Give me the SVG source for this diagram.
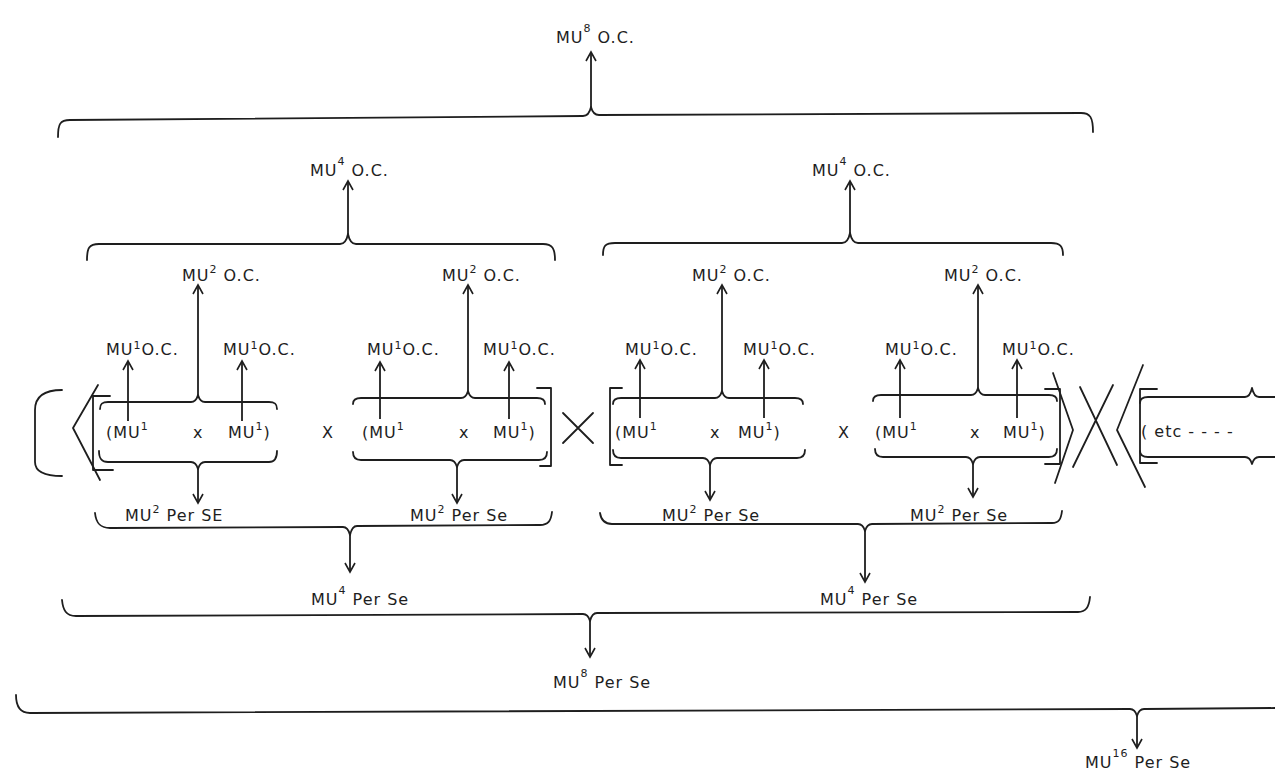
<svg xmlns="http://www.w3.org/2000/svg" width="1275" height="774" viewBox="0 0 1275 774">
<defs>
<marker id="ah" markerUnits="userSpaceOnUse" markerWidth="14" markerHeight="14" refX="10" refY="6" orient="auto">
<path d="M1,1 L10,6 L1,11" fill="none" stroke="#1e1e1e" stroke-width="1.6"/>
</marker>
</defs>
<style>
.t{font-family:"DejaVu Sans","Liberation Sans",sans-serif;font-size:16px;fill:#1e1e1e;letter-spacing:1px}
.s{font-size:11px}
.ln{fill:none;stroke:#1e1e1e;stroke-width:1.8;stroke-linecap:round;stroke-linejoin:round}
.ar{fill:none;stroke:#1e1e1e;stroke-width:1.8;marker-end:url(#ah)}
</style>
<rect width="1275" height="774" fill="#ffffff"/>

<g id="brackets" class="ln">
<path d="M58,137 C58,124 60,120 70,120 L583,116 Q589,116 591,107 Q593,115 599,115 L1081,113 C1090,113 1093,117 1093,132"/>
<path d="M87,260 C87,248 89,244 99,244 L340,244 Q346,244 348,234 Q350,244 356,244 L543,244 C552,244 555,248 555,260"/>
<path d="M603,255 C603,246 605,243 615,243 L842,243 Q848,243 850,233 Q852,243 858,243 L1051,243 C1060,243 1063,246 1063,255"/>
<path d="M100,409 C100,404 102,402 108,402 L191,402 Q196,402 198,395 Q200,402 205,402 L269,402 C275,402 277,404 277,409"/>
<path d="M353,404 C353,400 355,398 361,398 L461,398 Q466,398 468,391 Q470,398 475,398 L537,398 C543,398 545,400 545,404"/>
<path d="M613,404 C613,400 615,398 621,398 L715,398 Q720,398 722,391 Q724,398 729,398 L795,398 C801,398 803,400 803,404"/>
<path d="M873,401 C873,397 875,395 881,395 L971,395 Q976,395 978,388 Q980,395 985,395 L1049,395 C1055,395 1057,397 1057,401"/>
<path d="M1140,403 C1140,399 1142,397 1148,397 L1245,397 Q1250,397 1252,388 Q1254,397 1259,397 L1275,397"/>
<path d="M99,451 C99,458 101,462 108,462 L191,462 Q196,462 198,469 Q200,462 205,462 L269,462 C275,462 277,458 277,451"/>
<path d="M353,452 C353,457 355,460 361,460 L450,460 Q455,460 457,467 Q459,460 464,460 L539,460 C545,460 547,457 547,452"/>
<path d="M613,450 C613,455 615,458 621,458 L703,458 Q708,458 710,465 Q712,458 717,458 L797,458 C803,458 805,455 805,450"/>
<path d="M875,449 C875,454 877,457 883,457 L966,457 Q971,457 973,464 Q975,457 980,457 L1049,457 C1055,457 1057,454 1057,449"/>
<path d="M1140,451 C1140,455 1142,457 1148,457 L1245,457 Q1250,457 1252,464 Q1254,457 1259,457 L1275,457"/>
<path d="M95,513 C96,523 100,528 110,528 L343,527 Q348,527 350,535 Q352,526 357,526 L540,525 C548,525 551,521 552,512"/>
<path d="M600,513 C601,520 604,524 612,524 L858,524 Q863,524 865,531 Q867,524 872,524 L1052,523 C1059,523 1061,519 1062,511"/>
<path d="M62,600 C63,610 66,616 76,616 L583,614 Q588,614 590,621 Q592,613 597,613 L1078,612 C1086,612 1089,607 1090,597"/>
<path d="M16,695 C16,706 20,713 30,713 L1130,709 Q1135,709 1137,716 Q1139,709 1144,709 L1275,708"/>
<path d="M62,390 C44,390 35,396 35,410 L35,462 C35,472 44,476 62,476"/>
<path d="M98,385 L73,428 L100,480"/>
<path d="M110,396 H93 V470 H113"/>
<path d="M537,388 H551 V466 H540"/>
<path d="M563,413 L593,443 M593,413 L563,443"/>
<path d="M622,388 H610 V465 H622"/>
<path d="M1045,389 H1060 V464 H1045"/>
<path d="M1053,373 L1073,430 L1055,483"/>
<path d="M1080,387 L1117,465 M1113,385 L1073,467"/>
<path d="M1143,365 L1117,430 L1145,487"/>
<path d="M1157,389 H1140 V463 H1157"/>
</g>

<g id="connectors" class="ar">
<path d="M591,107 V52"/>
<path d="M348,234 V181"/>
<path d="M850,233 V181"/>
<path d="M198,395 V285"/>
<path d="M468,391 V285"/>
<path d="M722,391 V285"/>
<path d="M978,388 V285"/>
<path d="M128,421 V361"/>
<path d="M242,421 V361"/>
<path d="M380,419 V362"/>
<path d="M509,419 V362"/>
<path d="M640,418 V360"/>
<path d="M764,418 V360"/>
<path d="M900,418 V360"/>
<path d="M1017,418 V360"/>
<path d="M198,469 V503"/>
<path d="M457,467 V503"/>
<path d="M710,465 V500"/>
<path d="M973,464 V497"/>
<path d="M350,535 V572"/>
<path d="M865,531 V582"/>
<path d="M590,621 V657"/>
<path d="M1137,716 V748"/>
</g>

<g id="n-mu8oc"><text class="t" x="556" y="43">MU<tspan class="s" dy="-11">8</tspan><tspan dy="11"> O.C.</tspan></text></g>
<g id="n-mu4oc-l"><text class="t" x="310" y="176">MU<tspan class="s" dy="-11">4</tspan><tspan dy="11"> O.C.</tspan></text></g>
<g id="n-mu4oc-r"><text class="t" x="812" y="176">MU<tspan class="s" dy="-11">4</tspan><tspan dy="11"> O.C.</tspan></text></g>

<g id="n-mu2oc-1"><text class="t" x="182" y="281">MU<tspan class="s" dy="-8">2</tspan><tspan dy="8"> O.C.</tspan></text></g>
<g id="n-mu2oc-2"><text class="t" x="442" y="281">MU<tspan class="s" dy="-8">2</tspan><tspan dy="8"> O.C.</tspan></text></g>
<g id="n-mu2oc-3"><text class="t" x="692" y="281">MU<tspan class="s" dy="-8">2</tspan><tspan dy="8"> O.C.</tspan></text></g>
<g id="n-mu2oc-4"><text class="t" x="944" y="281">MU<tspan class="s" dy="-8">2</tspan><tspan dy="8"> O.C.</tspan></text></g>

<g id="n-mu1oc-1"><text class="t" x="106" y="355">MU<tspan class="s" dy="-6">1</tspan><tspan dy="6">O.C.</tspan></text></g>
<g id="n-mu1oc-2"><text class="t" x="223" y="355">MU<tspan class="s" dy="-6">1</tspan><tspan dy="6">O.C.</tspan></text></g>
<g id="n-mu1oc-3"><text class="t" x="367" y="355">MU<tspan class="s" dy="-6">1</tspan><tspan dy="6">O.C.</tspan></text></g>
<g id="n-mu1oc-4"><text class="t" x="483" y="355">MU<tspan class="s" dy="-6">1</tspan><tspan dy="6">O.C.</tspan></text></g>
<g id="n-mu1oc-5"><text class="t" x="625" y="355">MU<tspan class="s" dy="-6">1</tspan><tspan dy="6">O.C.</tspan></text></g>
<g id="n-mu1oc-6"><text class="t" x="743" y="355">MU<tspan class="s" dy="-6">1</tspan><tspan dy="6">O.C.</tspan></text></g>
<g id="n-mu1oc-7"><text class="t" x="885" y="355">MU<tspan class="s" dy="-6">1</tspan><tspan dy="6">O.C.</tspan></text></g>
<g id="n-mu1oc-8"><text class="t" x="1002" y="355">MU<tspan class="s" dy="-6">1</tspan><tspan dy="6">O.C.</tspan></text></g>

<g id="n-pair-1">
<text class="t" x="106" y="438">(MU<tspan class="s" dy="-8">1</tspan></text>
<text class="t" x="193" y="438">x</text>
<text class="t" x="228" y="438">MU<tspan class="s" dy="-8">1</tspan><tspan dy="8">)</tspan></text>
</g>
<g id="n-op-1"><text class="t" x="322" y="438">X</text></g>
<g id="n-pair-2">
<text class="t" x="362" y="438">(MU<tspan class="s" dy="-8">1</tspan></text>
<text class="t" x="459" y="438">x</text>
<text class="t" x="493" y="438">MU<tspan class="s" dy="-8">1</tspan><tspan dy="8">)</tspan></text>
</g>
<g id="n-pair-3">
<text class="t" x="615" y="438">(MU<tspan class="s" dy="-8">1</tspan></text>
<text class="t" x="710" y="438">x</text>
<text class="t" x="738" y="438">MU<tspan class="s" dy="-8">1</tspan><tspan dy="8">)</tspan></text>
</g>
<g id="n-op-2"><text class="t" x="838" y="438">X</text></g>
<g id="n-pair-4">
<text class="t" x="875" y="438">(MU<tspan class="s" dy="-8">1</tspan></text>
<text class="t" x="970" y="438">x</text>
<text class="t" x="1003" y="438">MU<tspan class="s" dy="-8">1</tspan><tspan dy="8">)</tspan></text>
</g>
<g id="n-etc"><text class="t" x="1141" y="437">( etc - - - -</text></g>

<g id="n-mu2ps-1"><text class="t" x="125" y="521">MU<tspan class="s" dy="-8">2</tspan><tspan dy="8"> Per SE</tspan></text></g>
<g id="n-mu2ps-2"><text class="t" x="410" y="521">MU<tspan class="s" dy="-8">2</tspan><tspan dy="8"> Per Se</tspan></text></g>
<g id="n-mu2ps-3"><text class="t" x="662" y="521">MU<tspan class="s" dy="-8">2</tspan><tspan dy="8"> Per Se</tspan></text></g>
<g id="n-mu2ps-4"><text class="t" x="910" y="521">MU<tspan class="s" dy="-8">2</tspan><tspan dy="8"> Per Se</tspan></text></g>

<g id="n-mu4ps-l"><text class="t" x="311" y="605">MU<tspan class="s" dy="-11">4</tspan><tspan dy="11"> Per Se</tspan></text></g>
<g id="n-mu4ps-r"><text class="t" x="820" y="605">MU<tspan class="s" dy="-11">4</tspan><tspan dy="11"> Per Se</tspan></text></g>
<g id="n-mu8ps"><text class="t" x="553" y="688">MU<tspan class="s" dy="-11">8</tspan><tspan dy="11"> Per Se</tspan></text></g>
<g id="n-mu16ps"><text class="t" x="1085" y="768">MU<tspan class="s" dy="-11">16</tspan><tspan dy="11"> Per Se</tspan></text></g>
</svg>
